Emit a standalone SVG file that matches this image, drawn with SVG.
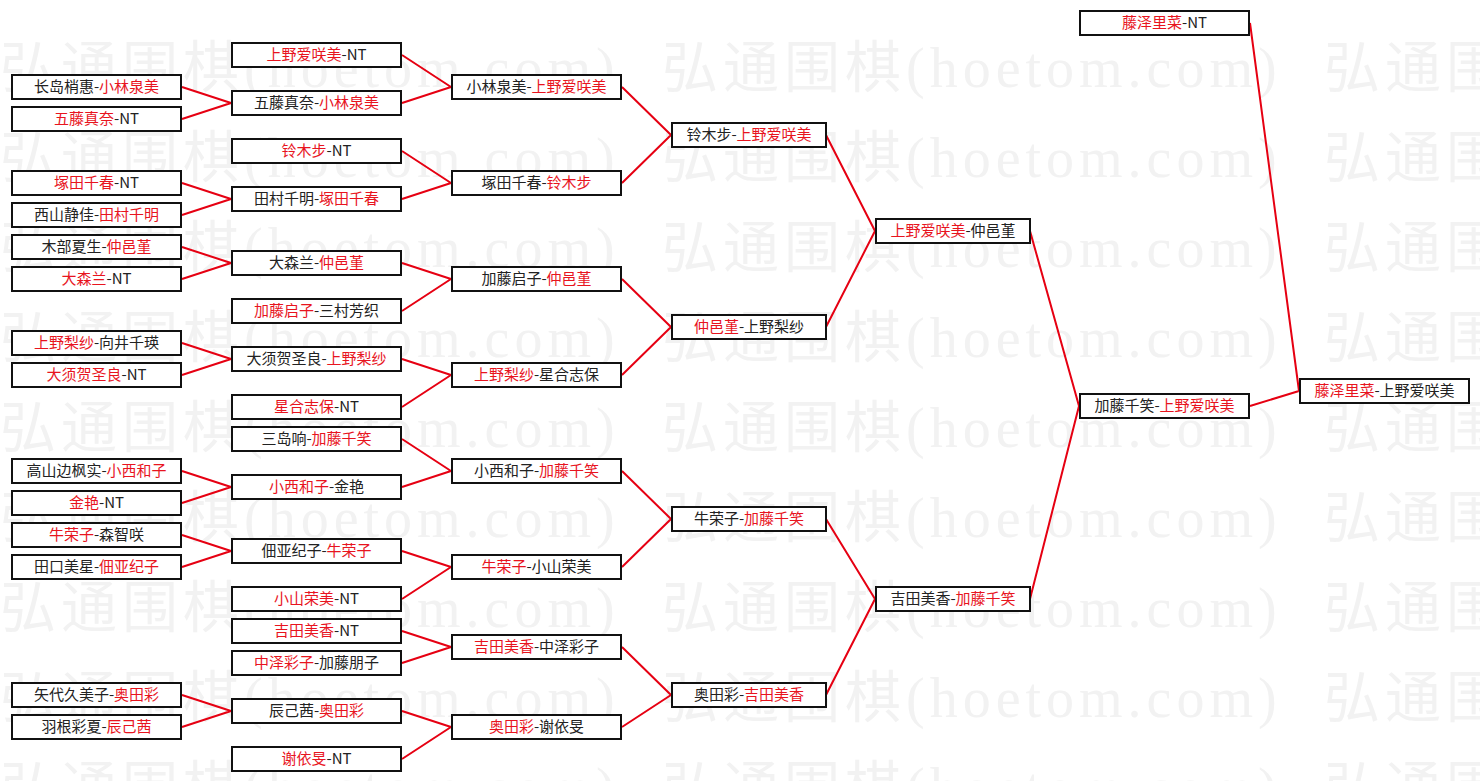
<svg xmlns="http://www.w3.org/2000/svg" width="1480" height="781" viewBox="0 0 1480 781">
<style>
.wm{font-family:"Liberation Serif","Noto Sans CJK SC",serif;font-size:56px;letter-spacing:5px;fill:#f2f2f2}
.box{fill:#ffffff;stroke:#111111;stroke-width:2}
.t{font-family:"Noto Sans CJK SC",sans-serif;font-size:15px;fill:#222222;text-anchor:middle}
.r{fill:#e8141e}
.ln{fill:none;stroke:#e60012;stroke-width:2}
</style>
<rect x="0" y="0" width="1480" height="781" fill="#ffffff"/>
<g id="watermark">
<text class="wm" x="0" y="87">弘通围棋(hoetom.com)</text><text class="wm" x="662" y="87">弘通围棋(hoetom.com)</text><text class="wm" x="1324" y="87">弘通围</text>
<text class="wm" x="0" y="177">弘通围棋(hoetom.com)</text><text class="wm" x="662" y="177">弘通围棋(hoetom.com)</text><text class="wm" x="1324" y="177">弘通围</text>
<text class="wm" x="0" y="267">弘通围棋(hoetom.com)</text><text class="wm" x="662" y="267">弘通围棋(hoetom.com)</text><text class="wm" x="1324" y="267">弘通围</text>
<text class="wm" x="0" y="357">弘通围棋(hoetom.com)</text><text class="wm" x="662" y="357">弘通围棋(hoetom.com)</text><text class="wm" x="1324" y="357">弘通围</text>
<text class="wm" x="0" y="447">弘通围棋(hoetom.com)</text><text class="wm" x="662" y="447">弘通围棋(hoetom.com)</text><text class="wm" x="1324" y="447">弘通围</text>
<text class="wm" x="0" y="537">弘通围棋(hoetom.com)</text><text class="wm" x="662" y="537">弘通围棋(hoetom.com)</text><text class="wm" x="1324" y="537">弘通围</text>
<text class="wm" x="0" y="627">弘通围棋(hoetom.com)</text><text class="wm" x="662" y="627">弘通围棋(hoetom.com)</text><text class="wm" x="1324" y="627">弘通围</text>
<text class="wm" x="0" y="717">弘通围棋(hoetom.com)</text><text class="wm" x="662" y="717">弘通围棋(hoetom.com)</text><text class="wm" x="1324" y="717">弘通围</text>
<text class="wm" x="0" y="807">弘通围棋(hoetom.com)</text><text class="wm" x="662" y="807">弘通围棋(hoetom.com)</text><text class="wm" x="1324" y="807">弘通围</text>
</g>
<g id="connectors">
<path class="ln" d="M182,87L231,103M182,119L231,103M182,183L231,199M182,215L231,199M182,247L231,263M182,279L231,263M182,343L231,359M182,375L231,359M182,471L231,487M182,503L231,487M182,535L231,551M182,567L231,551M182,695L231,711M182,727L231,711"/>
<path class="ln" d="M402,55L451,87M402,103L451,87M402,151L451,183M402,199L451,183M402,263L451,279M402,311L451,279M402,359L451,375M402,407L451,375M402,439L451,471M402,487L451,471M402,551L451,567M402,599L451,567M402,631L451,647M402,663L451,647M402,711L451,727M402,759L451,727"/>
<path class="ln" d="M622,87L671,135M622,183L671,135M622,279L671,327M622,375L671,327M622,471L671,519M622,567L671,519M622,647L671,695M622,727L671,695"/>
<path class="ln" d="M826,135L875,231M826,327L875,231M826,519L875,599M826,695L875,599"/>
<path class="ln" d="M1030,231L1079,406M1030,599L1079,406"/>
<path class="ln" d="M1250,23L1299,391M1250,406L1299,391"/>
</g>
<!-- column 1 -->
<g id="n1-1"><rect class="box" x="12" y="75" width="169" height="24"/><text class="t" x="96.5" y="92">长岛梢惠-<tspan class="r">小林泉美</tspan></text></g>
<g id="n1-2"><rect class="box" x="12" y="107" width="169" height="24"/><text class="t" x="96.5" y="124"><tspan class="r">五藤真奈</tspan>-NT</text></g>
<g id="n1-3"><rect class="box" x="12" y="171" width="169" height="24"/><text class="t" x="96.5" y="188"><tspan class="r">塚田千春</tspan>-NT</text></g>
<g id="n1-4"><rect class="box" x="12" y="203" width="169" height="24"/><text class="t" x="96.5" y="220">西山静佳-<tspan class="r">田村千明</tspan></text></g>
<g id="n1-5"><rect class="box" x="12" y="235" width="169" height="24"/><text class="t" x="96.5" y="252">木部夏生-<tspan class="r">仲邑堇</tspan></text></g>
<g id="n1-6"><rect class="box" x="12" y="267" width="169" height="24"/><text class="t" x="96.5" y="284"><tspan class="r">大森兰</tspan>-NT</text></g>
<g id="n1-7"><rect class="box" x="12" y="331" width="169" height="24"/><text class="t" x="96.5" y="348"><tspan class="r">上野梨纱</tspan>-向井千瑛</text></g>
<g id="n1-8"><rect class="box" x="12" y="363" width="169" height="24"/><text class="t" x="96.5" y="380"><tspan class="r">大须贺圣良</tspan>-NT</text></g>
<g id="n1-9"><rect class="box" x="12" y="459" width="169" height="24"/><text class="t" x="96.5" y="476">高山边枫实-<tspan class="r">小西和子</tspan></text></g>
<g id="n1-10"><rect class="box" x="12" y="491" width="169" height="24"/><text class="t" x="96.5" y="508"><tspan class="r">金艳</tspan>-NT</text></g>
<g id="n1-11"><rect class="box" x="12" y="523" width="169" height="24"/><text class="t" x="96.5" y="540"><tspan class="r">牛荣子</tspan>-森智咲</text></g>
<g id="n1-12"><rect class="box" x="12" y="555" width="169" height="24"/><text class="t" x="96.5" y="572">田口美星-<tspan class="r">佃亚纪子</tspan></text></g>
<g id="n1-13"><rect class="box" x="12" y="683" width="169" height="24"/><text class="t" x="96.5" y="700">矢代久美子-<tspan class="r">奥田彩</tspan></text></g>
<g id="n1-14"><rect class="box" x="12" y="715" width="169" height="24"/><text class="t" x="96.5" y="732">羽根彩夏-<tspan class="r">辰己茜</tspan></text></g>
<!-- column 2 -->
<g id="n2-1"><rect class="box" x="232" y="43" width="169" height="24"/><text class="t" x="316.5" y="60"><tspan class="r">上野爱咲美</tspan>-NT</text></g>
<g id="n2-2"><rect class="box" x="232" y="91" width="169" height="24"/><text class="t" x="316.5" y="108">五藤真奈-<tspan class="r">小林泉美</tspan></text></g>
<g id="n2-3"><rect class="box" x="232" y="139" width="169" height="24"/><text class="t" x="316.5" y="156"><tspan class="r">铃木步</tspan>-NT</text></g>
<g id="n2-4"><rect class="box" x="232" y="187" width="169" height="24"/><text class="t" x="316.5" y="204">田村千明-<tspan class="r">塚田千春</tspan></text></g>
<g id="n2-5"><rect class="box" x="232" y="251" width="169" height="24"/><text class="t" x="316.5" y="268">大森兰-<tspan class="r">仲邑堇</tspan></text></g>
<g id="n2-6"><rect class="box" x="232" y="299" width="169" height="24"/><text class="t" x="316.5" y="316"><tspan class="r">加藤启子</tspan>-三村芳织</text></g>
<g id="n2-7"><rect class="box" x="232" y="347" width="169" height="24"/><text class="t" x="316.5" y="364">大须贺圣良-<tspan class="r">上野梨纱</tspan></text></g>
<g id="n2-8"><rect class="box" x="232" y="395" width="169" height="24"/><text class="t" x="316.5" y="412"><tspan class="r">星合志保</tspan>-NT</text></g>
<g id="n2-9"><rect class="box" x="232" y="427" width="169" height="24"/><text class="t" x="316.5" y="444">三岛响-<tspan class="r">加藤千笑</tspan></text></g>
<g id="n2-10"><rect class="box" x="232" y="475" width="169" height="24"/><text class="t" x="316.5" y="492"><tspan class="r">小西和子</tspan>-金艳</text></g>
<g id="n2-11"><rect class="box" x="232" y="539" width="169" height="24"/><text class="t" x="316.5" y="556">佃亚纪子-<tspan class="r">牛荣子</tspan></text></g>
<g id="n2-12"><rect class="box" x="232" y="587" width="169" height="24"/><text class="t" x="316.5" y="604"><tspan class="r">小山荣美</tspan>-NT</text></g>
<g id="n2-13"><rect class="box" x="232" y="619" width="169" height="24"/><text class="t" x="316.5" y="636"><tspan class="r">吉田美香</tspan>-NT</text></g>
<g id="n2-14"><rect class="box" x="232" y="651" width="169" height="24"/><text class="t" x="316.5" y="668"><tspan class="r">中泽彩子</tspan>-加藤朋子</text></g>
<g id="n2-15"><rect class="box" x="232" y="699" width="169" height="24"/><text class="t" x="316.5" y="716">辰己茜-<tspan class="r">奥田彩</tspan></text></g>
<g id="n2-16"><rect class="box" x="232" y="747" width="169" height="24"/><text class="t" x="316.5" y="764"><tspan class="r">谢依旻</tspan>-NT</text></g>
<!-- column 3 -->
<g id="n3-1"><rect class="box" x="452" y="75" width="169" height="24"/><text class="t" x="536.5" y="92">小林泉美-<tspan class="r">上野爱咲美</tspan></text></g>
<g id="n3-2"><rect class="box" x="452" y="171" width="169" height="24"/><text class="t" x="536.5" y="188">塚田千春-<tspan class="r">铃木步</tspan></text></g>
<g id="n3-3"><rect class="box" x="452" y="267" width="169" height="24"/><text class="t" x="536.5" y="284">加藤启子-<tspan class="r">仲邑堇</tspan></text></g>
<g id="n3-4"><rect class="box" x="452" y="363" width="169" height="24"/><text class="t" x="536.5" y="380"><tspan class="r">上野梨纱</tspan>-星合志保</text></g>
<g id="n3-5"><rect class="box" x="452" y="459" width="169" height="24"/><text class="t" x="536.5" y="476">小西和子-<tspan class="r">加藤千笑</tspan></text></g>
<g id="n3-6"><rect class="box" x="452" y="555" width="169" height="24"/><text class="t" x="536.5" y="572"><tspan class="r">牛荣子</tspan>-小山荣美</text></g>
<g id="n3-7"><rect class="box" x="452" y="635" width="169" height="24"/><text class="t" x="536.5" y="652"><tspan class="r">吉田美香</tspan>-中泽彩子</text></g>
<g id="n3-8"><rect class="box" x="452" y="715" width="169" height="24"/><text class="t" x="536.5" y="732"><tspan class="r">奥田彩</tspan>-谢依旻</text></g>
<!-- column 4 -->
<g id="n4-1"><rect class="box" x="672" y="123" width="154" height="24"/><text class="t" x="749" y="140">铃木步-<tspan class="r">上野爱咲美</tspan></text></g>
<g id="n4-2"><rect class="box" x="672" y="315" width="154" height="24"/><text class="t" x="749" y="332"><tspan class="r">仲邑堇</tspan>-上野梨纱</text></g>
<g id="n4-3"><rect class="box" x="672" y="507" width="154" height="24"/><text class="t" x="749" y="524">牛荣子-<tspan class="r">加藤千笑</tspan></text></g>
<g id="n4-4"><rect class="box" x="672" y="683" width="154" height="24"/><text class="t" x="749" y="700">奥田彩-<tspan class="r">吉田美香</tspan></text></g>
<!-- column 5 -->
<g id="n5-1"><rect class="box" x="876" y="219" width="154" height="24"/><text class="t" x="953" y="236"><tspan class="r">上野爱咲美</tspan>-仲邑堇</text></g>
<g id="n5-2"><rect class="box" x="876" y="587" width="154" height="24"/><text class="t" x="953" y="604">吉田美香-<tspan class="r">加藤千笑</tspan></text></g>
<!-- column 6 -->
<g id="n6-1"><rect class="box" x="1080" y="11" width="169" height="24"/><text class="t" x="1164.5" y="28"><tspan class="r">藤泽里菜</tspan>-NT</text></g>
<g id="n6-2"><rect class="box" x="1080" y="394" width="169" height="24"/><text class="t" x="1164.5" y="411">加藤千笑-<tspan class="r">上野爱咲美</tspan></text></g>
<!-- column 7 -->
<g id="n7-1"><rect class="box" x="1300" y="379" width="169" height="24"/><text class="t" x="1384.5" y="396"><tspan class="r">藤泽里菜</tspan>-上野爱咲美</text></g>
</svg>
